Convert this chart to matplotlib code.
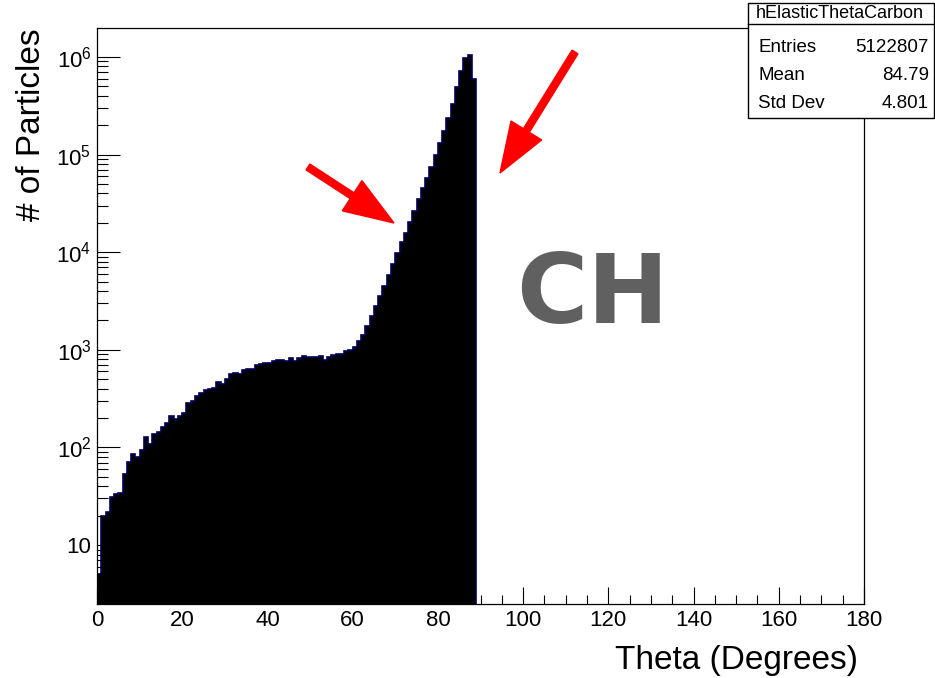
import numpy as np
import matplotlib
matplotlib.use("Agg")
import matplotlib.pyplot as plt
from matplotlib.patches import FancyArrow, Rectangle
from matplotlib.transforms import IdentityTransform
from matplotlib.lines import Line2D

plt.rcParams['font.family'] = ['Liberation Sans', 'DejaVu Sans']
plt.rcParams['mathtext.fontset'] = 'custom'
plt.rcParams['mathtext.rm'] = 'Liberation Sans'
plt.rcParams['mathtext.it'] = 'Liberation Sans:italic'
plt.rcParams['mathtext.bf'] = 'Liberation Sans:bold'

# histogram: 1 degree bins, counts (bins 0..88, rest empty)
counts = [
    5, 19.7, 22, 31, 33, 34, 54, 71, 85, 79,
    94, 128, 109, 138, 144, 161, 178, 208, 195, 211,
    225, 285, 300, 339, 360, 388, 393, 408, 465, 450,
    500, 563, 577, 563, 625, 635, 635, 703, 710, 733,
    740, 767, 778, 778, 760, 824, 773, 824, 870, 843,
    843, 843, 870, 795, 843, 885, 906, 906, 964, 1000,
    1070, 1220, 1430, 1740, 2200, 2780, 3520, 4530, 5880, 7560,
    9780, 12600, 15800, 20600, 26500, 34900, 45300, 58200, 75400, 99300,
    131000, 175000, 236000, 330000, 490000, 720000, 970000, 1050000, 596000,
]
bin_edges = np.arange(0, len(counts) + 1)

hist_name = "hElasticThetaCarbon"
stats_labels = ["Entries", "Mean", "Std Dev"]
stats_values = ["5122807", "84.79", "4.801"]

xticks = [0, 20, 40, 60, 80, 100, 120, 140, 160, 180]
yticks = [10, 1e2, 1e3, 1e4, 1e5, 1e6]
ytick_labels = ["10", "$10^{2}$", "$10^{3}$", "$10^{4}$", "$10^{5}$", "$10^{6}$"]

W, H = 935, 678
fig = plt.figure(figsize=(W / 100, H / 100), dpi=100)
ax = fig.add_axes([97 / W, 1 - 604 / H, (864 - 97) / W, (604 - 28) / H])

ax.stairs(counts, bin_edges, fill=True, color='black', baseline=0.1)
ax.stairs(counts, bin_edges, color='#00005a', linewidth=1.2, baseline=0.1)

ax.set_yscale('log')
ax.set_xlim(0, 180)
ax.set_ylim(2.49, 1.98e6)

ax.set_xticks(xticks)
ax.set_xticks(np.arange(0, 181, 5), minor=True)
ax.set_yticks(yticks)
ax.set_yticklabels(ytick_labels)
ax.yaxis.set_minor_locator(matplotlib.ticker.LogLocator(base=10, subs=np.arange(2, 10)))
ax.yaxis.set_minor_formatter(matplotlib.ticker.NullFormatter())

ax.tick_params(axis='x', which='major', direction='in', length=12.2, width=0.8, labelsize=16, pad=4)
ax.tick_params(axis='x', which='minor', direction='in', length=6.3, width=0.8)
ax.tick_params(axis='y', which='major', direction='in', length=16.5, width=0.8, labelsize=16, pad=4)
ax.tick_params(axis='y', which='minor', direction='in', length=8, width=0.8)
for s in ax.spines.values():
    s.set_linewidth(0.9)

fig.text(858 / W, 1 - 660 / H, "Theta (Degrees)", ha='right', va='center', fontsize=24)
fig.text(31 / W, 1 - 28 / H, "# of Particles", ha='center', va='top', rotation=90, fontsize=24)

# big label
fig.text(592 / W, 1 - 297 / H, "CH", ha='center', va='center', fontsize=70,
         fontweight='bold', color='#606060', family='DejaVu Sans')

# red arrows (pixel coords, origin bottom-left)
def arrow(x0, y0, x1, y1):
    a = FancyArrow(x0, H - y0, x1 - x0, -(y1 - y0), width=7, head_width=36,
                   head_length=50, length_includes_head=True, color='red',
                   transform=IdentityTransform())
    fig.add_artist(a)

arrow(308, 167, 394, 223)
arrow(575, 52, 500, 173)

# stats box
bx0, bx1, by0, by1 = 748, 934, 3, 118
fig.add_artist(Rectangle((bx0, H - by1), bx1 - bx0, by1 - by0, facecolor='white',
                         edgecolor='black', linewidth=1, transform=IdentityTransform(), zorder=5))
fig.add_artist(Line2D([bx0, bx1], [H - 24, H - 24], color='black', linewidth=1,
                      transform=IdentityTransform(), zorder=6))
fig.text((bx0 + bx1) / 2 / W - 1 / W, 1 - 14 / H, hist_name, ha='center', va='center', fontsize=13, zorder=7)
for i, (lab, val) in enumerate(zip(stats_labels, stats_values)):
    yy = 1 - (48 + 28 * i) / H
    fig.text(758 / W, yy, lab, ha='left', va='center', fontsize=13.5, zorder=7)
    fig.text(929 / W, yy, val, ha='right', va='center', fontsize=13.5, zorder=7)

fig.savefig("out.png", dpi=100)
